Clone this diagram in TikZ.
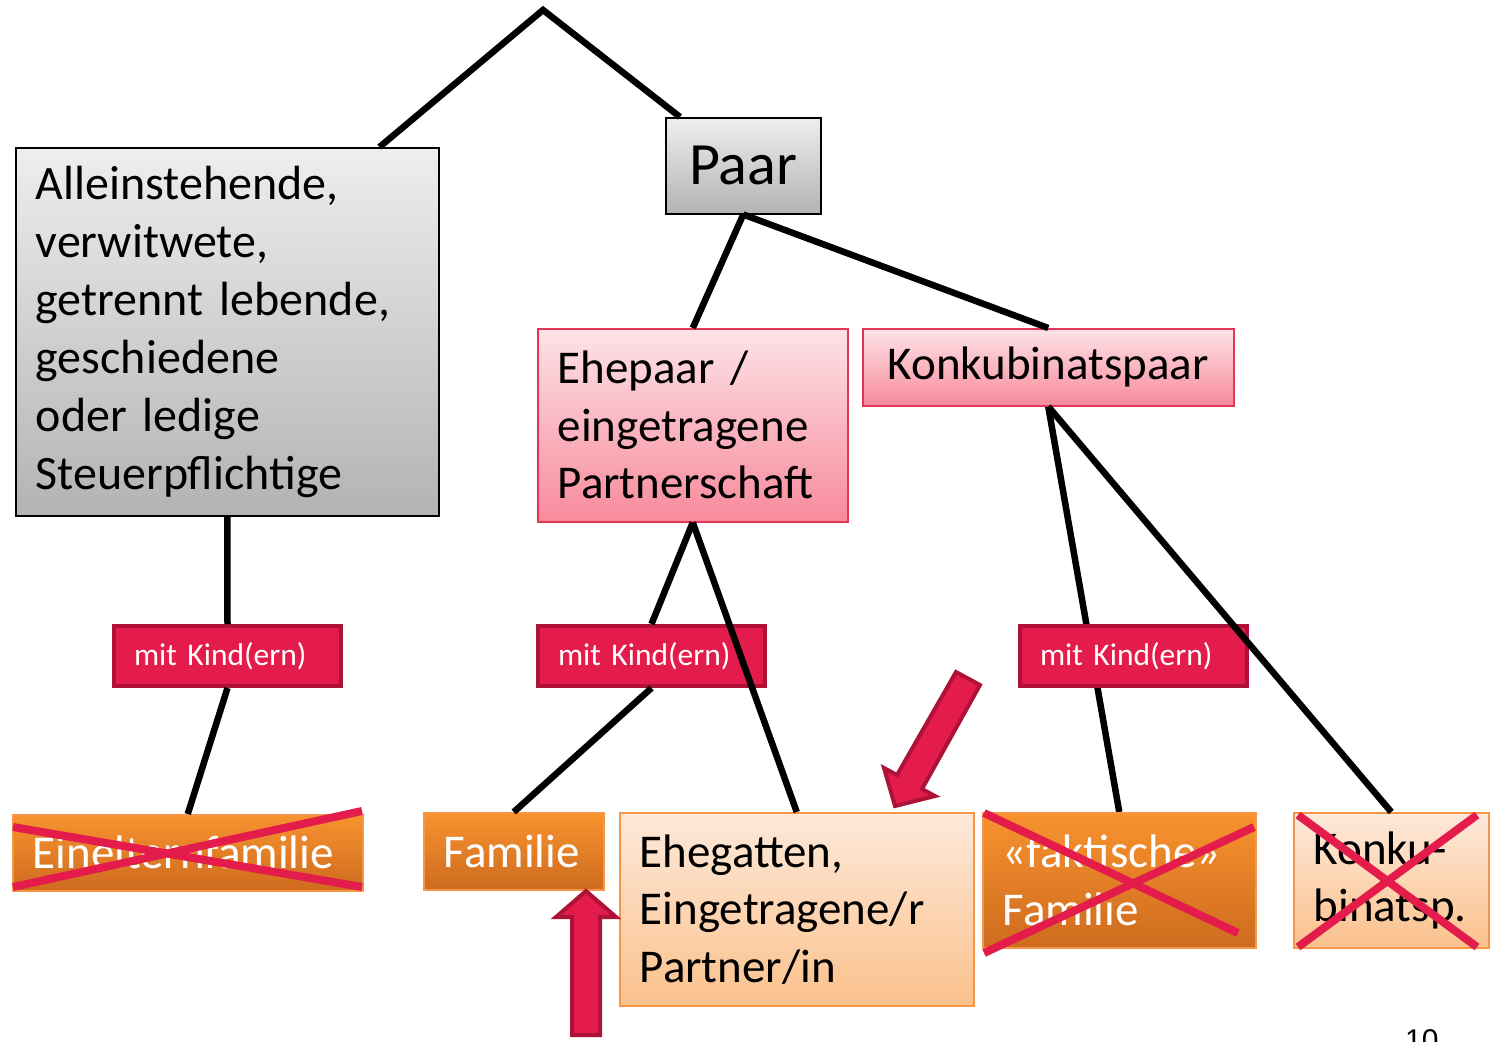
\documentclass[tikz,border=0pt]{standalone}
\usepackage{fontspec}
\setmainfont{Carlito}
\newfontfamily\pagenumfont{Liberation Sans}
\usetikzlibrary{calc,backgrounds}

\definecolor{greyTop}{HTML}{EEEEEE}
\definecolor{greyBot}{HTML}{B3B3B3}
\definecolor{pinkTop}{HTML}{FDE3E7}
\definecolor{pinkBot}{HTML}{F78A9B}
\definecolor{pinkLine}{HTML}{E5365A}
\definecolor{kindFill}{HTML}{E31C4B}
\definecolor{kindLine}{HTML}{AE1236}
\definecolor{orangeTop}{HTML}{F8932F}
\definecolor{orangeBot}{HTML}{CE6B1E}
\definecolor{orangeLine}{HTML}{F79646}
\definecolor{peachTop}{HTML}{FDE9DA}
\definecolor{peachBot}{HTML}{FBC18C}

\newcommand{\bigtext}{\fontsize{47}{57.5}\selectfont}

\tikzset{
  box/.style={draw, anchor=north west, inner xsep=20pt, inner ysep=0pt, line width=1.5pt},
  greybox/.style={box, top color=greyTop, bottom color=greyBot, draw=black, font=\fontsize{48}{58}\selectfont},
  pinkbox/.style={box, top color=pinkTop, bottom color=pinkBot, draw=pinkLine, font=\bigtext},
  orangebox/.style={box, top color=orangeTop, bottom color=orangeBot, draw=orangeLine, text=white, font=\bigtext},
  peachbox/.style={box, top color=peachTop, bottom color=peachBot, draw=orangeLine, font=\bigtext},
  kindbox/.style={box, fill=kindFill, draw=kindLine, line width=4pt, text=white, font=\fontsize{31.5}{38}\selectfont},
  branch/.style={line width=6.5pt},
  cross/.style={draw=kindFill, line width=8pt},
  blockarrow/.style={fill=kindFill, draw=kindLine, line width=4pt, line join=miter}
}

\begin{document}
\begin{tikzpicture}[x=1pt,y=-1pt]
\useasboundingbox (0,0) rectangle (1495,1041);
\clip (0,0) rectangle (1495,1041);

% upper level
\coordinate (top) at (543,10);
\node[greybox, text width=383pt, minimum height=368pt] (single) at (15,147)
  {Alleinstehende,\\verwitwete,\\getrennt lebende,\\geschiedene\\oder ledige\\Steuerpflichtige};
\node[greybox, align=center, minimum width=155pt, minimum height=96pt, inner xsep=0pt, font=\fontsize{60}{70}\selectfont] (paar) at (665,117) {Paar};

% couples
\node[pinkbox, text width=270pt, minimum height=193pt] (ehe) at (537,328)
  {Ehepaar /\\eingetragene\\Partnerschaft};
\node[pinkbox, align=center, minimum width=371pt, minimum height=77pt, inner xsep=0pt] (konk) at (862,328) {Konkubinatspaar};

% with children
\node[kindbox, text width=187pt, minimum height=60pt] (kind1) at (112,624) {mit Kind(ern)};
\node[kindbox, text width=187pt, minimum height=60pt] (kind2) at (536,624) {mit Kind(ern)};
\node[kindbox, text width=187pt, minimum height=60pt] (kind3) at (1018,624) {mit Kind(ern)};

% bottom level
\node[orangebox, text width=310pt, minimum height=76pt] (einel) at (12,814) {Einelternfamilie};
\node[orangebox, text width=140pt, minimum height=77pt] (fam) at (423,812) {Familie};
\node[peachbox, text width=314pt, minimum height=193pt] (gatten) at (619,812)
  {Ehegatten,\\Eingetragene/r\\Partner/in};
\node[orangebox, text width=233pt, minimum height=135pt] (fakt) at (982,812) {«faktische»\\Familie};
\node[peachbox, text width=155pt, minimum height=135pt] (konku) at (1293,812) {Konku-\\binatsp.};

% tree lines
\draw[branch] ([xshift=-60pt]single.north east) -- (top) -- ([xshift=15pt]paar.north west);
\draw[branch] (paar.south) -- (ehe.north);
\draw[branch] (paar.south) -- (konk.north);
\draw[branch] (single.south) -- (kind1.north);
\draw[branch] (kind1.south) -- (einel.north);
\draw[branch] (ehe.south) -- (kind2.north);
\draw[branch] (kind2.south) -- (fam.north);
\draw[branch] (ehe.south) -- (gatten.north);
\begin{scope}[on background layer]
\draw[branch] (konk.south) -- (fakt.north);
\end{scope}
\draw[branch] (konk.south) -- (konku.north);

% crossed out
\draw[cross] (13,827) -- (362,887);
\draw[cross] (13,887) -- (362,811);
\draw[cross] (984,813) -- (1238,933);
\draw[cross] (984,953) -- (1254,827);
\draw[cross] (1298,815) -- (1477,947);
\draw[cross] (1298,947) -- (1477,815);

% block arrows
\draw[blockarrow] (572,1035) -- (572,917) -- (556,917) -- (586,891) -- (616,917) -- (600,917) -- (600,1035) -- cycle;
\draw[blockarrow] (956,672) -- (897,775) -- (884,768) -- (895,806) -- (935,796) -- (922,789) -- (980,685) -- cycle;

\node[anchor=base west, inner sep=0pt, font=\pagenumfont\fontsize{30}{36}\selectfont] (pagenum) at (1405,1050) {10};
\end{tikzpicture}
\end{document}
